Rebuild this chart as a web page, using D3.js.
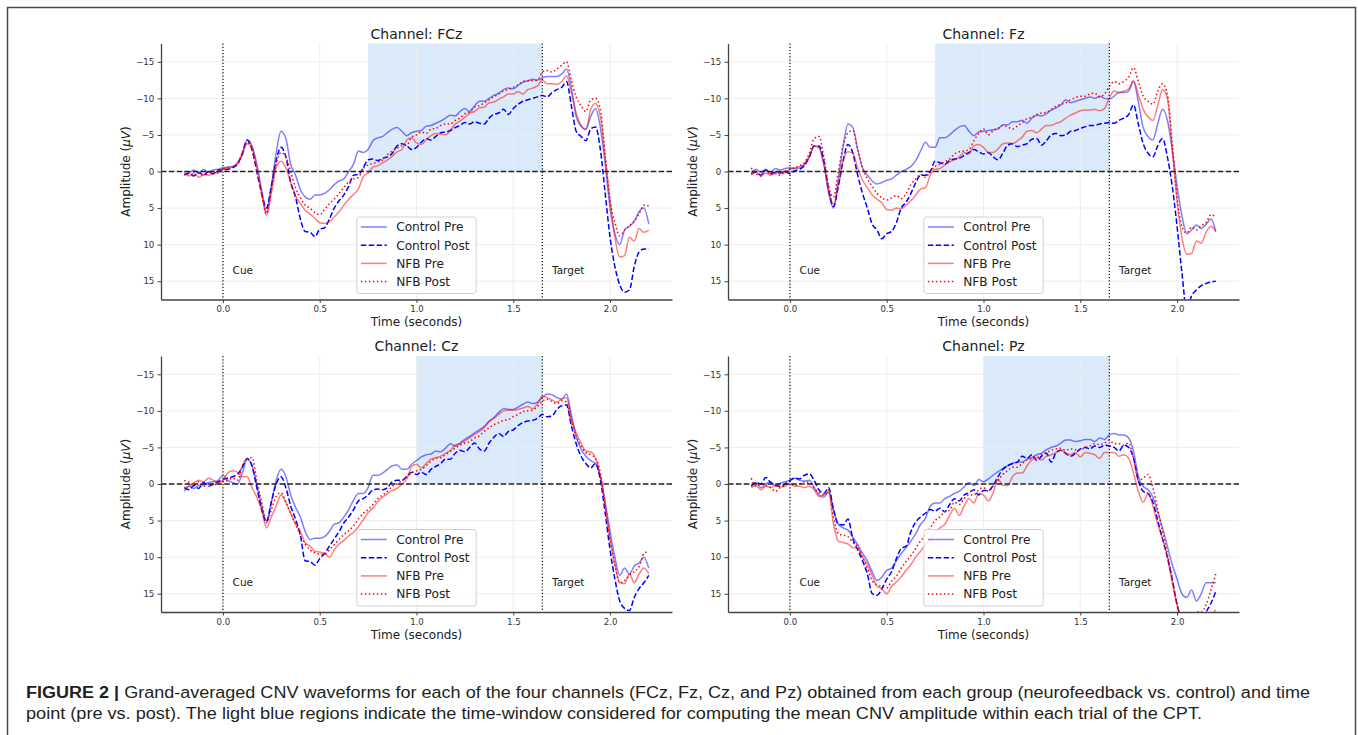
<!DOCTYPE html>
<html>
<head>
<meta charset="utf-8">
<script src="https://cdn.jsdelivr.net/npm/d3@7"></script>
<style>
  html, body { margin: 0; padding: 0; background: #fff; }
  svg { display: block; }
</style>
</head>
<body>
<svg id="fig" width="1358" height="735"></svg>
<script>
// ---------------- DATA ----------------
const time = [
 -0.2,-0.175,-0.15,-0.125,-0.1,-0.075,-0.05,-0.025,
 0,0.025,0.05,0.075,0.1,0.125,0.15,0.175,
 0.2,0.225,0.25,0.275,0.3,0.325,0.35,0.375,
 0.4,0.425,0.45,0.475,0.5,0.525,0.55,0.575,
 0.6,0.625,0.65,0.675,0.7,0.725,0.75,0.775,
 0.8,0.825,0.85,0.875,0.9,0.925,0.95,0.975,
 1.0,1.025,1.05,1.075,1.1,1.125,1.15,1.175,
 1.2,1.225,1.25,1.275,1.3,1.325,1.35,1.375,
 1.4,1.425,1.45,1.475,1.5,1.525,1.55,1.575,
 1.6,1.625,1.65,1.675,1.7,1.725,1.75,1.775,
 1.8,1.825,1.85,1.875,1.9,1.925,1.95,1.975,
 2.0,2.025,2.05,2.075,2.1,2.125,2.15,2.175,
 2.2];

const seriesNames = ["Control Pre", "Control Post", "NFB Pre", "NFB Post"];
const channelNames = ["FCz", "Fz", "Cz", "Pz"];
const windowStart = [0.75, 0.75, 1.0, 1.0];
const windowEnd = [1.65, 1.65, 1.65, 1.65];
const xTicks = [0, 0.5, 1.0, 1.5, 2.0];
const yTicks = [-15, -10, -5, 0, 5, 10, 15];
const cueTime = 0, targetTime = 1.65;

// FCz
const fczCtrlPre = [
 0.4,0.2,-0.2,0.3,-0.3,0.1,-0.2,-0.3,
 -0.5,-0.6,-0.7,-1.2,-2.2,-4.3,-3.5,-1.0,
 2.5,5.5,2.0,-2.5,-5.5,-4.5,-1.0,0.5,
 2.5,3.5,3.8,3.2,3.2,3.0,2.5,1.8,
 1.3,1.0,0.0,-1.0,-2.8,-2.6,-3.0,-4.2,
 -4.6,-4.8,-5.3,-5.8,-6.0,-5.5,-4.9,-5.3,
 -5.5,-5.6,-6.2,-6.3,-6.6,-6.9,-7.3,-7.7,
 -7.6,-8.2,-8.6,-8.2,-9.0,-9.6,-9.6,-10.0,
 -10.4,-10.7,-11.2,-11.4,-11.3,-11.8,-12.2,-12.4,
 -12.6,-12.5,-12.8,-13.0,-13.0,-13.0,-13.3,-14.0,
 -11.5,-7.5,-6.2,-5.8,-7.5,-8.6,-6.0,-1.0,
 5.0,8.5,10.0,8.0,7.5,6.8,5.5,5.0,
 7.2];
const fczCtrlPost = [
 0.5,0.2,0.6,0.1,0.5,0.0,0.3,-0.2,
 -0.2,-0.3,-0.5,-1.0,-2.5,-4.3,-3.0,0.0,
 3.0,5.0,2.0,-1.5,-3.3,-2.0,1.5,3.5,
 6.5,8.2,8.3,8.9,7.9,7.7,6.5,5.0,
 4.0,3.2,2.0,0.5,0.4,-0.5,-1.6,-1.7,
 -1.5,-1.8,-2.0,-2.5,-3.5,-3.8,-3.5,-3.0,
 -3.3,-4.0,-4.5,-4.3,-4.8,-5.3,-5.4,-5.6,
 -6.0,-6.3,-6.7,-6.5,-6.8,-6.6,-6.5,-7.3,
 -7.8,-8.0,-8.5,-7.8,-8.6,-9.2,-9.6,-9.8,
 -10.0,-10.2,-10.4,-10.2,-10.8,-11.2,-11.5,-12.3,
 -9.0,-5.5,-4.8,-4.2,-5.8,-6.1,-3.0,3.0,
 9.0,13.0,15.5,16.5,16.2,13.0,11.0,10.6,
 10.6];
const fczNfbPre = [
 0.3,0.6,0.2,0.8,0.4,0.5,0.3,0.1,
 -0.3,-0.5,-0.7,-1.0,-2.5,-3.8,-3.3,-0.5,
 3.0,6.0,3.0,-0.5,-1.4,-0.5,1.5,3.3,
 4.4,5.3,5.8,6.4,7.0,7.1,6.9,6.2,
 5.5,4.6,3.8,3.1,2.4,0.7,0.2,-0.6,
 -0.8,-1.2,-1.6,-2.1,-2.7,-3.0,-4.3,-4.6,
 -3.9,-3.7,-4.3,-4.9,-5.2,-5.1,-5.0,-5.6,
 -6.5,-6.9,-7.4,-8.0,-8.2,-8.7,-8.8,-9.4,
 -9.5,-9.9,-10.2,-10.6,-10.6,-10.9,-10.6,-11.2,
 -11.4,-11.7,-12.5,-12.0,-12.0,-11.9,-12.3,-13.1,
 -10.8,-8.0,-6.3,-5.7,-8.5,-9.3,-7.5,-2.0,
 4.0,9.0,11.7,11.5,9.0,9.5,7.8,8.3,
 8.0];
const fczNfbPost = [
 0.0,0.4,0.6,0.2,0.5,0.3,0.0,0.2,
 -0.3,-0.5,-0.6,-1.0,-2.5,-4.0,-3.0,0.0,
 3.0,5.8,2.5,-1.0,-2.6,-2.0,0.0,2.2,
 3.6,4.6,5.0,5.6,5.9,5.2,4.4,3.8,
 3.0,2.2,1.4,1.0,0.8,-0.4,-0.9,-1.1,
 -1.3,-1.6,-2.3,-2.8,-3.2,-3.5,-3.6,-4.7,
 -5.0,-5.4,-5.2,-5.8,-5.9,-6.3,-6.5,-6.5,
 -7.0,-7.3,-7.9,-8.2,-8.8,-9.0,-9.4,-9.8,
 -10.2,-10.6,-11.0,-11.2,-11.5,-11.8,-12.3,-12.4,
 -12.4,-12.5,-13.6,-13.8,-13.6,-14.0,-14.5,-15.0,
 -12.5,-10.2,-9.0,-8.2,-9.8,-10.0,-8.5,-2.0,
 4.0,7.0,8.8,8.0,7.4,6.8,5.8,4.6,
 4.7];

// Fz
const fzCtrlPre = [
 0.2,-0.3,0.1,-0.3,0.2,-0.4,-0.2,-0.4,
 -0.5,-0.4,-0.5,-1.0,-2.0,-3.5,-3.3,-1.0,
 3.0,5.0,1.0,-3.5,-6.5,-6.0,-3.0,-0.5,
 0.5,1.3,1.7,1.5,1.2,1.0,0.5,0.0,
 -0.3,-0.7,-1.5,-2.8,-4.0,-3.3,-3.3,-4.6,
 -4.6,-5.0,-5.6,-6.1,-6.3,-5.5,-4.9,-5.4,
 -5.5,-5.6,-5.7,-5.8,-6.4,-6.4,-6.8,-6.8,
 -7.0,-6.6,-7.3,-7.7,-7.6,-7.9,-8.4,-8.7,
 -9.1,-9.8,-9.4,-9.6,-9.8,-10.0,-10.2,-10.0,
 -10.3,-10.0,-9.9,-10.3,-10.8,-10.8,-11.0,-12.3,
 -9.5,-6.0,-4.8,-4.3,-6.5,-8.5,-7.0,-3.0,
 2.0,6.0,8.5,8.0,7.3,7.8,7.2,6.5,
 8.2];
const fzCtrlPost = [
 0.3,0.1,0.5,-0.2,0.3,0.1,0.2,0.0,
 0.3,-0.1,-0.3,-0.8,-2.0,-3.5,-3.5,-1.5,
 2.5,4.8,2.0,-1.5,-3.7,-2.5,0.5,3.0,
 5.0,7.2,8.0,9.2,8.5,8.2,7.0,5.0,
 4.2,3.0,1.5,0.5,0.5,0.0,-1.4,-1.2,
 -1.0,-1.5,-1.7,-1.8,-2.2,-2.6,-3.0,-2.7,
 -2.4,-2.6,-2.0,-1.6,-2.5,-3.6,-3.8,-3.4,
 -3.6,-3.8,-4.4,-4.5,-3.6,-4.2,-5.0,-5.2,
 -4.9,-5.0,-5.5,-5.6,-5.9,-6.1,-6.3,-6.3,
 -6.5,-6.6,-6.7,-6.6,-7.0,-7.3,-7.8,-9.1,
 -6.5,-3.8,-2.5,-2.0,-3.5,-4.5,-2.0,2.0,
 7.5,13.8,19.0,17.0,16.2,15.6,15.3,15.1,
 15.0];
const fzNfbPre = [
 0.5,0.0,0.6,0.2,0.5,0.3,0.0,0.2,
 -0.3,-0.5,-0.7,-1.0,-2.0,-3.5,-3.3,-1.0,
 2.5,4.5,2.0,-1.5,-2.7,-2.5,-0.5,1.2,
 2.2,3.2,3.8,4.3,5.2,5.3,5.0,5.1,
 4.6,4.0,3.2,2.4,2.2,0.5,-0.3,-0.4,
 -0.9,-1.3,-1.6,-2.0,-2.6,-2.4,-3.5,-3.7,
 -3.3,-2.6,-2.6,-3.1,-3.8,-3.9,-3.8,-4.2,
 -4.7,-5.5,-5.6,-5.3,-5.8,-6.3,-6.3,-6.6,
 -6.8,-7.3,-7.7,-8.0,-8.3,-8.4,-8.4,-8.5,
 -8.3,-8.6,-10.1,-11.0,-10.8,-11.0,-11.3,-12.4,
 -10.5,-8.5,-7.5,-7.0,-9.0,-11.2,-10.0,-3.0,
 4.0,9.0,11.3,11.2,9.5,9.8,8.3,7.5,
 8.2];
const fzNfbPost = [
 -0.5,0.3,0.6,-0.2,0.4,0.2,0.5,0.0,
 -0.3,-0.5,-0.8,-1.2,-2.5,-4.5,-4.8,-2.0,
 2.0,3.5,0.0,-3.5,-5.3,-5.6,-3.0,-0.5,
 1.0,2.0,3.0,3.6,3.9,3.6,3.3,3.7,
 3.0,1.8,1.0,0.4,0.8,0.0,-0.7,-1.0,
 -1.3,-1.7,-2.4,-2.7,-2.8,-3.0,-4.2,-5.2,
 -5.8,-5.0,-5.6,-5.9,-6.3,-6.1,-5.8,-6.2,
 -6.7,-7.2,-7.4,-7.8,-8.0,-8.1,-8.5,-8.9,
 -9.2,-9.4,-9.8,-10.1,-10.3,-10.3,-10.6,-10.7,
 -10.2,-10.6,-11.6,-12.3,-12.0,-12.3,-12.9,-14.2,
 -12.3,-10.3,-9.6,-9.2,-11.0,-12.0,-10.5,-4.0,
 3.5,7.5,8.4,7.6,8.0,7.4,7.0,5.9,
 6.2];

// Cz
const czCtrlPre = [
 1.0,0.3,0.6,0.2,0.1,-0.2,-0.3,-0.5,
 -1.2,-0.5,-0.2,0.0,-1.5,-3.4,-2.5,0.0,
 3.0,5.0,2.5,-0.5,-2.0,-1.0,1.5,3.2,
 4.5,6.5,7.6,7.4,7.4,7.2,6.5,5.5,
 5.3,4.5,3.5,2.2,1.3,1.3,0.5,-1.2,
 -1.2,-1.5,-2.0,-2.5,-2.6,-2.0,-2.0,-2.7,
 -3.2,-3.7,-4.0,-4.1,-4.5,-4.4,-4.9,-5.5,
 -5.2,-5.6,-6.1,-6.5,-7.0,-7.4,-7.9,-8.6,
 -9.1,-9.8,-10.3,-10.2,-10.2,-10.5,-10.9,-11.2,
 -11.0,-11.2,-11.8,-12.3,-12.2,-11.8,-11.6,-12.3,
 -9.5,-6.5,-4.8,-3.8,-3.2,-2.8,-1.0,2.5,
 6.5,10.0,12.5,11.5,12.3,11.2,10.8,10.0,
 11.5];
const czCtrlPost = [
 0.5,0.8,0.2,0.6,-0.2,0.3,0.0,-0.3,
 -0.6,-0.8,-1.0,-1.3,-2.3,-3.5,-2.5,0.5,
 3.5,5.2,2.5,0.0,-1.0,0.5,3.0,4.8,
 7.0,10.5,10.6,11.1,10.2,9.5,8.5,7.5,
 6.5,5.3,4.5,3.5,2.3,2.0,1.5,0.8,
 0.7,0.8,0.5,-0.3,-0.5,-0.5,-1.0,-1.6,
 -1.3,-1.6,-1.3,-2.0,-2.4,-2.8,-3.4,-3.4,
 -4.2,-4.6,-4.4,-5.0,-5.6,-4.8,-4.5,-5.6,
 -6.4,-6.9,-6.5,-7.2,-7.4,-8.0,-8.4,-8.6,
 -8.7,-9.0,-9.5,-9.2,-9.3,-10.2,-10.7,-10.8,
 -8.0,-5.5,-3.8,-2.8,-2.2,-2.8,-0.5,4.0,
 9.0,13.0,16.0,17.0,17.3,15.5,14.3,13.5,
 12.5];
const czNfbPre = [
 0.5,0.3,-0.2,-0.5,-0.3,-0.8,-0.5,-0.2,
 -0.5,-1.5,-1.8,-1.6,-1.0,-1.0,0.5,1.8,
 3.5,6.0,4.5,3.0,1.5,2.5,4.0,5.5,
 6.5,8.0,8.5,9.2,9.3,9.5,10.0,9.0,
 8.2,7.7,7.1,6.6,5.8,4.9,3.9,3.3,
 2.4,1.8,1.3,0.9,0.6,0.0,-0.7,-2.4,
 -2.7,-2.2,-2.8,-3.4,-3.6,-3.8,-4.2,-4.6,
 -5.3,-5.5,-5.9,-6.3,-6.8,-7.2,-7.7,-8.5,
 -9.0,-9.5,-10.0,-10.1,-10.1,-10.2,-10.4,-10.6,
 -10.3,-11.0,-12.0,-11.8,-11.5,-11.2,-11.6,-11.8,
 -9.0,-7.0,-5.6,-4.5,-4.4,-3.5,-1.0,3.0,
 7.5,11.0,13.5,13.6,12.3,13.5,12.3,11.5,
 12.3];
const czNfbPost = [
 -0.5,-0.2,0.2,-0.3,0.3,0.0,0.2,-0.2,
 -0.3,-0.5,-0.8,-0.5,-2.5,-3.5,-3.6,-0.5,
 2.5,5.3,3.5,1.7,1.2,2.5,4.0,5.5,
 7.0,8.2,9.0,9.4,9.6,9.6,9.0,8.3,
 7.6,6.9,6.4,5.7,4.8,4.0,3.5,2.8,
 2.0,1.5,1.0,0.3,0.0,-0.5,-1.0,-1.5,
 -1.8,-2.0,-2.5,-3.1,-3.5,-3.6,-4.0,-4.5,
 -4.9,-5.3,-5.6,-5.8,-6.3,-6.6,-7.2,-7.7,
 -8.1,-8.4,-8.7,-8.8,-9.2,-9.5,-9.9,-10.0,
 -10.1,-10.6,-11.3,-11.6,-11.3,-11.0,-11.4,-11.2,
 -8.5,-6.5,-5.2,-4.3,-4.0,-3.5,-1.5,3.0,
 7.5,11.0,13.5,13.2,12.5,12.0,11.3,9.5,
 9.2];

// Pz
const pzCtrlPre = [
 0.2,-0.2,0.5,0.0,-0.3,0.2,-0.1,-0.3,
 -0.5,-0.8,-0.5,-0.4,-0.5,0.5,1.5,1.8,
 1.0,3.5,5.5,6.0,6.3,7.3,8.3,9.5,
 10.5,12.0,13.2,12.7,11.8,11.5,10.5,9.5,
 8.7,7.8,6.8,5.5,4.7,3.0,2.6,2.6,
 2.0,1.7,1.3,1.0,0.4,-0.2,0.2,-0.6,
 -0.3,-0.7,-1.2,-1.7,-2.1,-2.5,-2.8,-3.0,
 -3.0,-3.4,-3.6,-4.0,-4.2,-4.7,-5.0,-5.2,
 -5.6,-6.0,-6.0,-5.8,-5.9,-6.1,-6.1,-5.8,
 -6.3,-6.1,-6.7,-6.9,-6.7,-6.7,-6.3,-4.5,
 -1.0,0.3,0.8,1.8,3.8,6.0,8.5,11.0,
 13.0,15.0,15.5,14.5,16.0,15.0,13.5,13.5,
 13.5];
const pzCtrlPost = [
 0.3,-0.2,0.0,-0.9,-0.2,0.2,0.3,0.0,
 -0.5,-0.8,-0.7,-1.2,-1.4,-0.5,0.8,1.3,
 0.5,3.5,5.5,5.6,4.8,7.5,9.0,10.5,
 12.3,15.0,15.2,14.3,13.0,12.0,10.2,8.8,
 8.5,6.5,5.2,4.5,4.0,3.5,3.7,3.3,
 3.8,2.8,2.0,2.3,1.5,1.2,0.8,1.5,
 0.9,0.9,0.2,-1.0,-2.0,-2.5,-2.8,-3.0,
 -3.8,-3.5,-4.0,-3.2,-3.8,-4.2,-3.0,-4.3,
 -4.6,-4.2,-3.8,-4.2,-4.8,-5.0,-4.8,-5.2,
 -5.0,-5.3,-5.2,-5.0,-4.5,-5.3,-5.0,-3.5,
 -0.5,1.0,1.3,2.5,5.0,7.5,10.0,13.0,
 16.5,18.5,19.0,18.5,18.5,18.8,17.5,16.3,
 14.7];
const pzNfbPre = [
 0.5,0.2,0.8,0.3,0.5,0.2,0.4,0.3,
 0.0,0.3,0.3,0.5,0.3,0.8,1.7,1.5,
 1.2,5.5,7.8,8.0,8.2,8.7,8.8,10.0,
 11.0,12.5,14.0,14.3,15.0,14.0,13.4,12.7,
 11.8,11.0,10.0,9.2,8.3,7.6,6.6,6.0,
 5.5,4.3,3.3,4.3,3.0,2.0,2.6,1.3,
 1.5,2.3,1.2,-0.7,0.2,0.2,-1.0,-1.5,
 -1.5,-2.5,-3.3,-3.6,-3.3,-3.8,-4.0,-4.3,
 -4.6,-4.2,-4.0,-4.3,-3.7,-4.3,-4.2,-4.0,
 -3.5,-4.3,-4.3,-4.3,-3.8,-4.0,-3.5,-1.5,
 1.0,2.5,1.3,3.0,5.5,7.5,10.0,13.5,
 16.5,19.0,20.0,20.0,19.5,19.0,18.5,18.0,
 17.2];
const pzNfbPost = [
 -0.8,0.3,0.0,0.2,0.5,1.0,0.5,0.2,
 -0.3,0.2,0.0,-0.3,-0.2,0.5,1.2,1.5,
 0.8,4.5,6.8,7.0,7.2,8.0,8.5,10.0,
 11.5,13.2,13.8,14.0,14.2,13.3,12.6,11.5,
 10.6,9.8,8.8,7.8,7.0,6.0,5.0,4.5,
 3.8,3.6,2.5,2.8,2.0,1.5,1.5,0.8,
 0.5,1.0,0.3,-0.5,-1.3,-1.8,-2.3,-2.3,
 -2.8,-3.3,-3.5,-3.6,-4.0,-4.3,-4.6,-4.8,
 -4.9,-4.6,-4.8,-4.7,-4.6,-5.0,-5.2,-5.5,
 -5.4,-5.6,-6.0,-5.5,-5.5,-5.3,-5.6,-3.5,
 -0.5,-0.8,-1.3,0.5,3.5,6.5,9.5,13.0,
 16.5,18.5,19.0,18.5,17.5,17.5,16.5,14.5,
 12.3];

const channelSeries = [
  [fczCtrlPre, fczCtrlPost, fczNfbPre, fczNfbPost],
  [fzCtrlPre, fzCtrlPost, fzNfbPre, fzNfbPost],
  [czCtrlPre, czCtrlPost, czNfbPre, czNfbPost],
  [pzCtrlPre, pzCtrlPost, pzNfbPre, pzNfbPost]
];

const captionLine1Bold = "FIGURE 2 | ";
const captionLine1 = "Grand-averaged CNV waveforms for each of the four channels (FCz, Fz, Cz, and Pz) obtained from each group (neurofeedback vs. control) and time";
const captionLine2 = "point (pre vs. post). The light blue regions indicate the time-window considered for computing the mean CNV amplitude within each trial of the CPT.";

// ---------------- STYLE / LAYOUT ----------------
const styles = [
  { color: "#0000ff", opacity: 0.5, dash: null },
  { color: "#0000ff", opacity: 1.0, dash: "5.5,2.4" },
  { color: "#ff0000", opacity: 0.5, dash: null },
  { color: "#ff0000", opacity: 1.0, dash: "1.5,2.5" }
];
const panelPos = [
  { x: 161, y: 43.5 }, { x: 728, y: 43.5 },
  { x: 161, y: 356 },  { x: 728, y: 356 }
];
const W = 511, H = 256;
const FONT = "DejaVu Sans, sans-serif";

const svg = d3.select("#fig");
svg.append("rect").attr("x", 0).attr("y", 0).attr("width", 1358).attr("height", 735).attr("fill", "#fff");
svg.append("rect").attr("x", 7.5).attr("y", 7.5).attr("width", 1348).attr("height", 800)
  .attr("fill", "none").attr("stroke", "#4a4a4a").attr("stroke-width", 1.5);

const minus = v => v < 0 ? "\u2212" + Math.abs(v) : String(v);

channelNames.forEach((ch, ci) => {
  const pos = panelPos[ci];
  const g = svg.append("g").attr("transform", `translate(${pos.x},${pos.y})`);
  const x = d3.scaleLinear().domain([-0.32, 2.32]).range([0, W]);
  const y = d3.scaleLinear().domain([-17.5, 17.5]).range([0, H]);

  const clipId = "clip" + ci;
  g.append("clipPath").attr("id", clipId).append("rect")
    .attr("x", 0).attr("y", 0).attr("width", W).attr("height", H);

  // shaded window
  g.append("rect")
    .attr("x", x(windowStart[ci])).attr("y", 0)
    .attr("width", x(windowEnd[ci]) - x(windowStart[ci]))
    .attr("height", y(0))
    .attr("fill", "#dbeafb");

  // grid
  g.append("g").selectAll("line").data(yTicks).join("line")
    .attr("x1", 0).attr("x2", W).attr("y1", d => y(d)).attr("y2", d => y(d))
    .attr("stroke", "#ececec").attr("stroke-width", 0.9);
  g.append("g").selectAll("line").data(xTicks).join("line")
    .attr("y1", 0).attr("y2", H).attr("x1", d => x(d)).attr("x2", d => x(d))
    .attr("stroke", "#ececec").attr("stroke-width", 0.9);

  // waveforms
  const line = d3.line().x((d, i) => x(time[i])).y(d => y(d)).curve(d3.curveMonotoneX);
  const lg = g.append("g").attr("clip-path", `url(#${clipId})`);
  channelSeries[ci].forEach((vals, si) => {
    const st = styles[si];
    const p = lg.append("path").datum(vals.slice(0, time.length))
      .attr("d", line).attr("fill", "none")
      .attr("stroke", st.color).attr("stroke-opacity", st.opacity)
      .attr("stroke-width", 1.5).attr("stroke-linejoin", "round");
    if (st.dash) p.attr("stroke-dasharray", st.dash);
  });

  // zero line
  g.append("line").attr("x1", 0).attr("x2", W).attr("y1", y(0)).attr("y2", y(0))
    .attr("stroke", "#222").attr("stroke-width", 1.5).attr("stroke-dasharray", "5.5,2.4");

  // cue / target lines
  [cueTime, targetTime].forEach(t => {
    g.append("line").attr("x1", x(t)).attr("x2", x(t)).attr("y1", 0).attr("y2", H)
      .attr("stroke", "#111").attr("stroke-width", 1.2).attr("stroke-dasharray", "1.2,2");
  });
  g.append("text").attr("x", x(0.05)).attr("y", y(14)).text("Cue")
    .attr("font-family", FONT).attr("font-size", 10.5).attr("fill", "#222");
  g.append("text").attr("x", x(1.70)).attr("y", y(14)).text("Target")
    .attr("font-family", FONT).attr("font-size", 10.5).attr("fill", "#222");

  // axes
  const yAxis = d3.axisLeft(y).tickValues(yTicks).tickFormat(minus)
    .tickSize(3.5).tickSizeOuter(0).tickPadding(3.2);
  const xAxis = d3.axisBottom(x).tickValues(xTicks).tickFormat(d3.format(".1f"))
    .tickSize(3.5).tickSizeOuter(0).tickPadding(3);
  const ya = g.append("g").call(yAxis);
  const xa = g.append("g").attr("transform", `translate(0,${H})`).call(xAxis);
  [ya, xa].forEach(a => {
    a.select(".domain").attr("stroke", "#444").attr("stroke-width", 1.3);
    a.selectAll(".tick line").attr("stroke", "#444").attr("stroke-width", 1);
    a.selectAll(".tick text").attr("font-family", FONT).attr("font-size", 8.6).attr("fill", "#333");
  });

  // labels
  g.append("text").attr("x", W / 2).attr("y", -5).attr("text-anchor", "middle")
    .attr("font-family", FONT).attr("font-size", 14).attr("fill", "#222")
    .text("Channel: " + ch);
  g.append("text").attr("x", W / 2).attr("y", H + 26.5).attr("text-anchor", "middle")
    .attr("font-family", FONT).attr("font-size", 12).attr("fill", "#222")
    .text("Time (seconds)");
  const yl = g.append("text").attr("transform", `translate(-31,${H / 2}) rotate(-90)`)
    .attr("text-anchor", "middle").attr("font-family", FONT).attr("font-size", 12).attr("fill", "#222");
  yl.append("tspan").text("Amplitude (");
  yl.append("tspan").attr("font-style", "italic").text("\u03bcV");
  yl.append("tspan").text(")");

  // legend
  const lw = 119.3, lh = 76.5;
  const lx = W / 2 - lw / 2, ly = H - 6 - lh;
  const leg = g.append("g").attr("transform", `translate(${lx},${ly})`);
  leg.append("rect").attr("width", lw).attr("height", lh).attr("rx", 2.5)
    .attr("fill", "#fff").attr("fill-opacity", 0.85)
    .attr("stroke", "#d0d0d0").attr("stroke-width", 1);
  seriesNames.forEach((nm, si) => {
    const st = styles[si];
    const ry = 10 + si * 18.2;
    const hl = leg.append("line").attr("x1", 4).attr("x2", 30).attr("y1", ry).attr("y2", ry)
      .attr("stroke", st.color).attr("stroke-opacity", st.opacity).attr("stroke-width", 1.5);
    if (st.dash) hl.attr("stroke-dasharray", st.dash);
    leg.append("text").attr("x", 39.3).attr("y", ry).attr("dy", "0.36em")
      .attr("font-family", FONT).attr("font-size", 12.2).attr("fill", "#222").text(nm);
  });
});

// caption
const CAPFONT = "Liberation Sans, Arial, sans-serif";
const c1 = svg.append("text").attr("x", 26).attr("y", 697.5)
  .attr("font-family", CAPFONT).attr("font-size", 16).attr("fill", "#231f20")
  .attr("textLength", 1284).attr("lengthAdjust", "spacingAndGlyphs");
c1.append("tspan").attr("font-weight", "bold").text(captionLine1Bold);
c1.append("tspan").text(captionLine1);
svg.append("text").attr("x", 26).attr("y", 718.5)
  .attr("font-family", CAPFONT).attr("font-size", 16).attr("fill", "#231f20")
  .attr("textLength", 1176).attr("lengthAdjust", "spacingAndGlyphs")
  .text(captionLine2);
</script>
</body>
</html>
